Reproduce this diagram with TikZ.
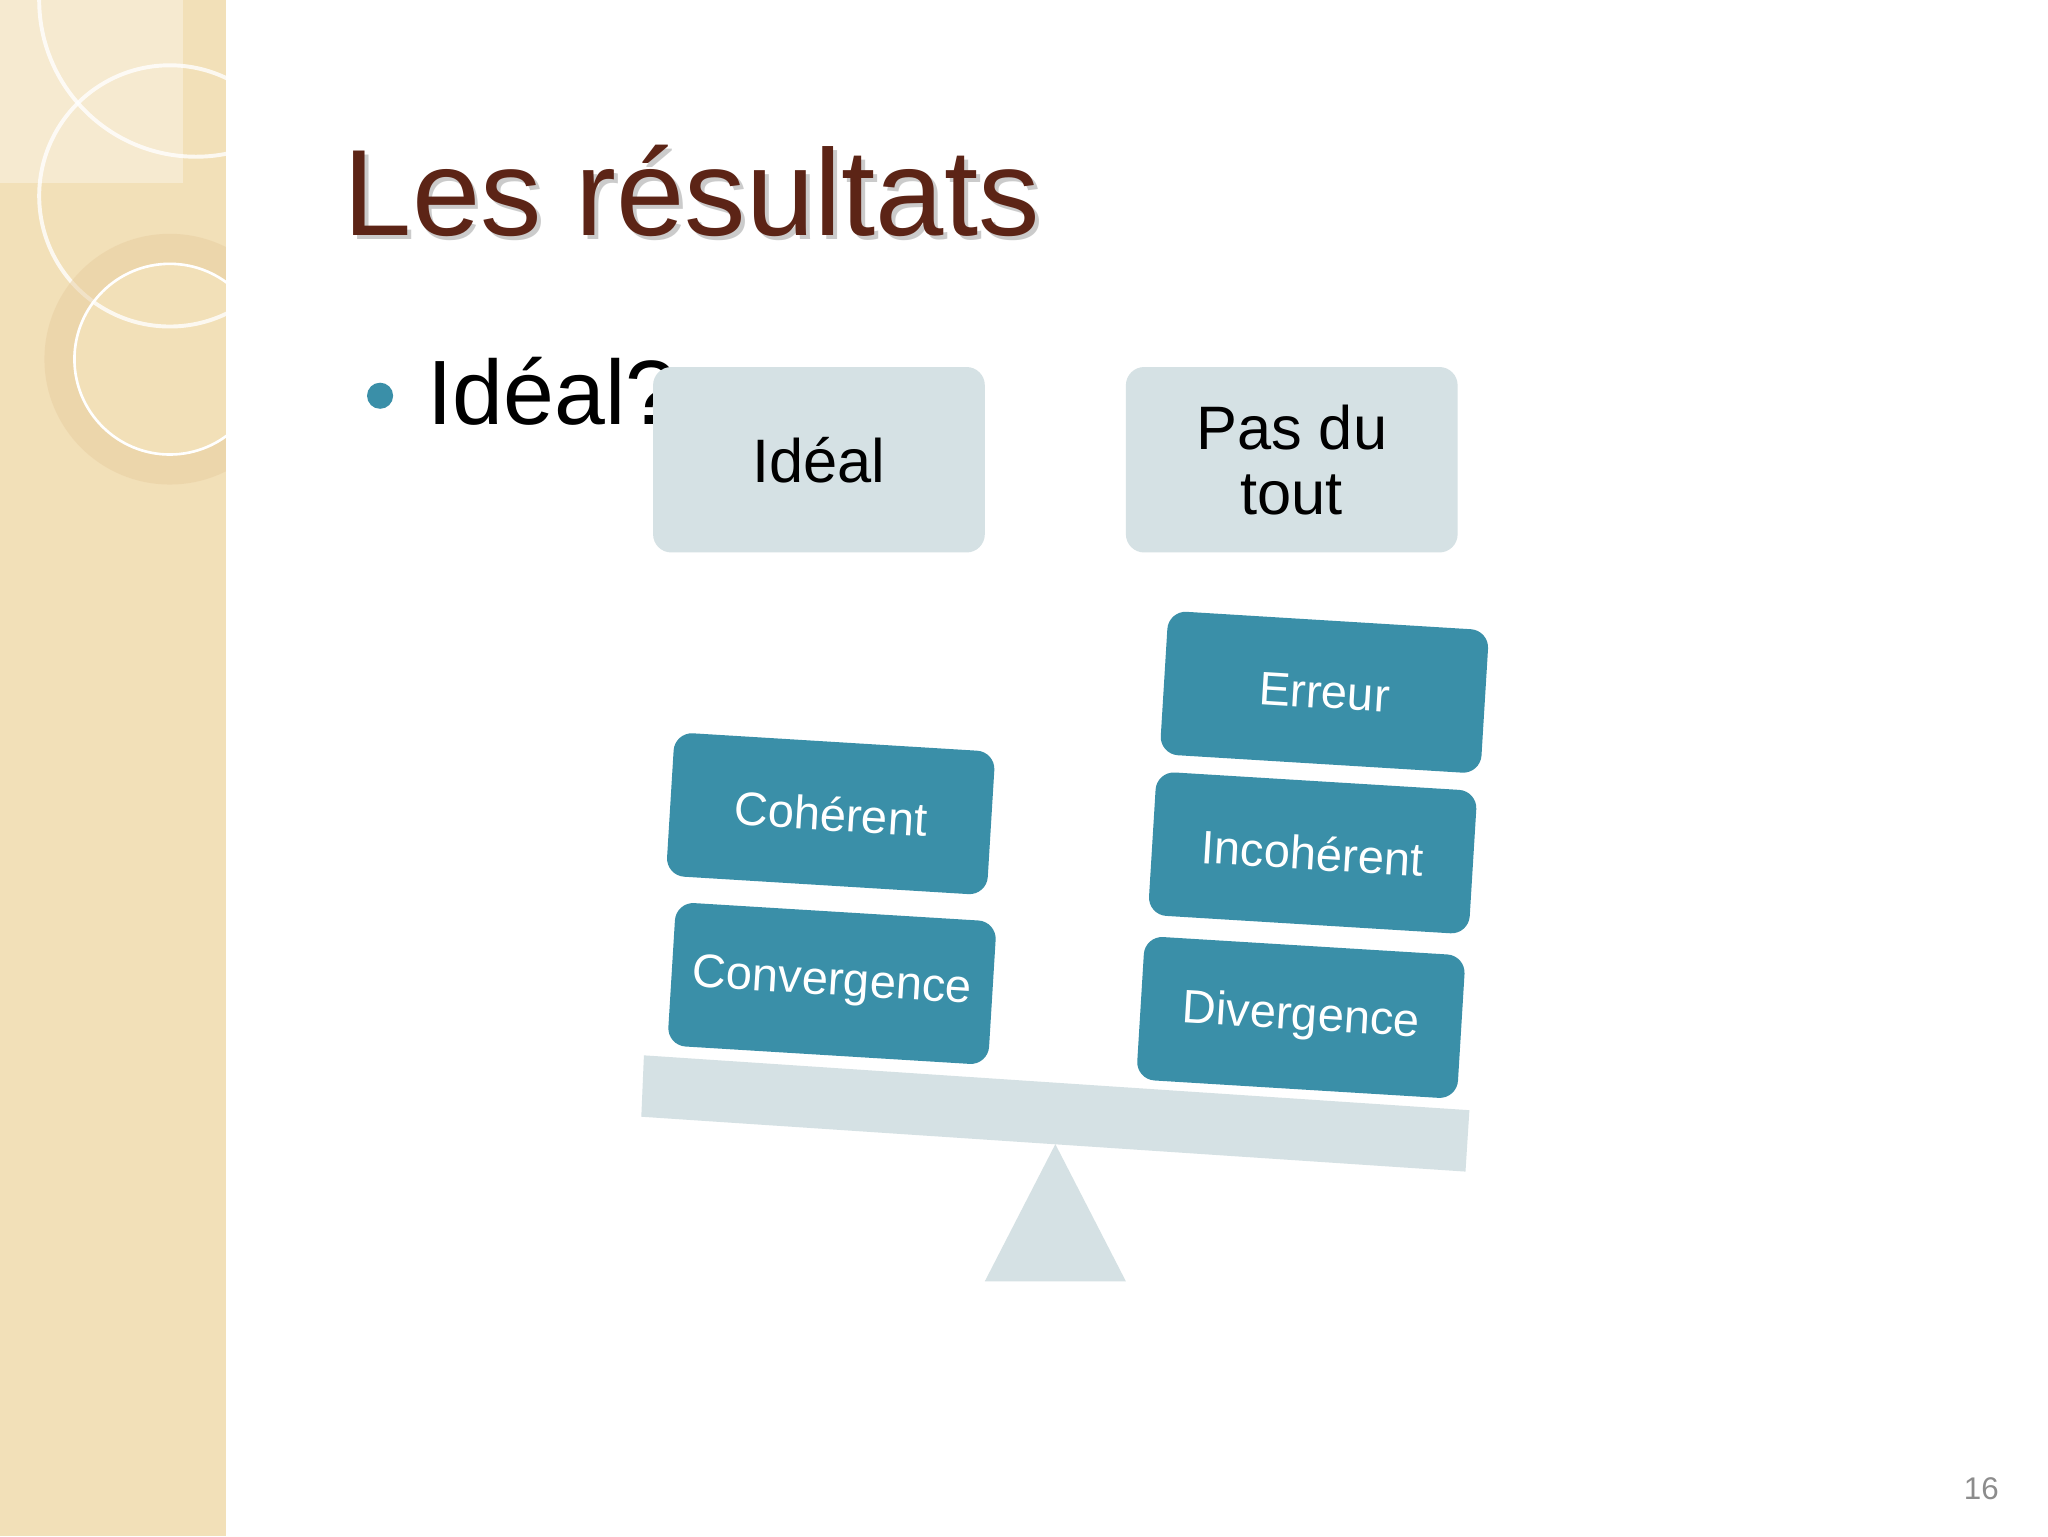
\documentclass[tikz,border=0pt]{standalone}
\usepackage{fontspec}
\setmainfont{Liberation Sans}
\begin{document}
\begin{tikzpicture}[x=1pt,y=1pt,
  graybox/.style={fill=boxgray,rounded corners=14pt,minimum width=254pt,minimum height=142pt,align=center,font=\fontsize{47}{50}\selectfont,inner sep=0pt},
  tealbox/.style={fill=teal1,rounded corners=14pt,minimum width=246pt,minimum height=110pt,text=white,font=\fontsize{36}{38}\selectfont,rotate=-3.5,inner sep=0pt},
  titlefont/.style={anchor=base west,font=\fontsize{94}{100}\selectfont,inner sep=0}]
\definecolor{boxgray}{HTML}{D5E1E4}
\definecolor{teal1}{HTML}{3A8FA8}
\definecolor{beige}{HTML}{F2E0B8}
\definecolor{brown1}{HTML}{5C2416}
\useasboundingbox (0,0) rectangle (1568,1176);
\fill[white] (0,0) rectangle (1568,1176);
% left strip
\fill[beige] (0,0) rectangle (173,1176);
\begin{scope}
\clip (0,0) rectangle (173,1176);
\fill[white,opacity=0.35] (0,1176) rectangle (140,1036);
\draw[white,line width=3pt,opacity=0.8] (130,1026) circle (100);
\draw[white,line width=3pt,opacity=0.8] (150,1176) circle (120);
\draw[color=beige!80!brown,line width=22pt,opacity=0.5] (130,901) circle (85);
\draw[white,line width=2pt] (130,901) circle (73);
\end{scope}
% title with shadow
\node[titlefont,text=black!40,opacity=0.5] (shadow) at (266,993) {Les résultats};
\node[titlefont,text=brown1] (title) at (263,996) {Les résultats};
\fill[teal1] (291,873) circle (10);
\node[anchor=base west,font=\fontsize{70}{72}\selectfont,inner sep=0] (bullet) at (327,851) {Idéal?};
% gray boxes
\node[graybox] (ideal) at (627,824) {Idéal};
\node[graybox] (pas) at (989,824) {Pas du\\tout};
% beam and fulcrum
\fill[boxgray] (493,368) -- (1125,326) -- (1122,279) -- (491,321) -- cycle;
\coordinate (beam) at (808,300);
\fill[boxgray] (808,300) -- (862,195) -- (754,195) -- cycle;
% teal boxes
\node[tealbox] (coh) at (636,553) {Cohérent};
\node[tealbox] (conv) at (637,423) {Convergence};
\node[tealbox] (err) at (1014,646) {Erreur};
\node[tealbox] (incoh) at (1005,523) {Incohérent};
\node[tealbox] (div) at (996,397) {Divergence};
\node[text=black!45,font=\fontsize{24}{26}\selectfont] (num) at (1517,36) {16};
\end{tikzpicture}
\end{document}
